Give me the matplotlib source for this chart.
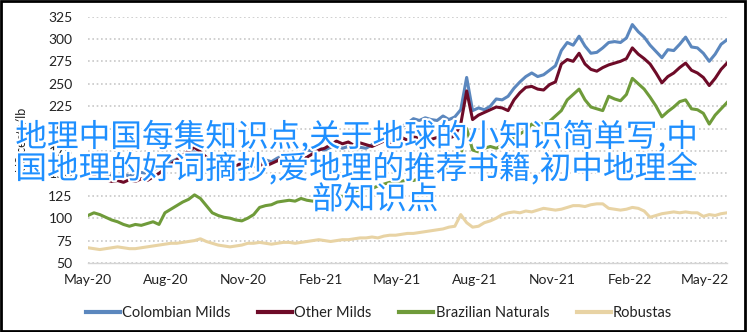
import numpy as np
import pandas as pd
import matplotlib
matplotlib.use("Agg")
import matplotlib.pyplot as plt
import matplotlib.dates as mdates
import matplotlib.patheffects as pe
from matplotlib.patches import Rectangle

# Weekly coffee price indicators, US cents/lb
dates = pd.date_range("2020-05-01", periods=109, freq="7D")

colombian_milds = [
    152, 150, 153, 149, 147, 146, 149, 147, 150, 151,
    150, 154, 157, 160, 163, 166, 170, 172, 174, 170,
    166, 163, 160, 158, 157, 155, 158, 160, 158, 162,
    165, 163, 167, 170, 172, 170, 174, 176, 175, 178,
    176, 179, 181, 178, 180, 177, 179, 178, 182, 186,
    190, 194, 198, 202, 206, 211, 209, 212, 210, 209,
    214, 210, 213, 221, 257, 220, 223, 221, 225, 233,
    232, 236, 245, 252, 258, 262, 258, 260, 265, 270,
    287, 296, 293, 303, 292, 284, 285, 290, 296, 297,
    296, 301, 316, 308, 302, 293, 286, 279, 288, 287,
    294, 302, 291, 290, 284, 275, 283, 294, 299,
]

other_milds = [
    150, 148, 146, 143, 141, 142, 140, 143, 141, 144,
    142, 146, 150, 155, 160, 165, 170, 175, 179, 174,
    168, 163, 160, 157, 155, 158, 162, 165, 163, 160,
    158, 161, 164, 168, 172, 170, 166, 168, 172, 176,
    178, 182, 186, 183, 185, 181, 184, 182, 180, 183,
    186, 184, 188, 190, 187, 191, 189, 192, 188, 190,
    193, 189, 192, 205, 242, 210, 215, 218, 221, 224,
    223, 220, 232, 240, 246, 247, 244, 243, 249, 252,
    272, 277, 275, 284, 272, 266, 264, 268, 271, 273,
    275, 278, 290, 283, 278, 272, 262, 251, 258, 262,
    268, 273, 265, 262, 257, 248, 256, 266, 273,
]

brazilian_naturals = [
    103, 106, 104, 101, 98, 96, 93, 91, 93, 92,
    94, 96, 93, 106, 110, 114, 118, 121, 126, 122,
    114, 106, 103, 101, 100, 98, 97, 100, 104, 112,
    114, 115, 118, 119, 120, 119, 122, 120, 119, 121,
    123, 125, 126, 124, 128, 130, 132, 134, 133, 136,
    138, 140, 139, 141, 143, 142, 144, 146, 150, 153,
    155, 157, 160, 170, 200, 176, 174, 178, 180, 178,
    181, 184, 190, 194, 198, 205, 203, 206, 208, 214,
    220, 232, 238, 244, 232, 224, 222, 220, 236, 233,
    231, 238, 256, 250, 244, 235, 225, 213, 219, 224,
    230, 232, 222, 221, 217, 205, 215, 222, 229,
]

robustas = [
    67, 66, 65, 66, 67, 68, 67, 66, 66, 67,
    68, 69, 70, 71, 72, 72, 73, 74, 75, 77,
    74, 72, 70, 69, 68, 69, 70, 72, 72, 73,
    72, 71, 72, 73, 73, 72, 73, 74, 75, 76,
    75, 74, 75, 76, 76, 77, 78, 78, 79, 78,
    80, 81, 81, 82, 83, 83, 84, 85, 86, 87,
    88, 90, 91, 104, 95, 90, 91, 95, 97, 100,
    104, 106, 107, 106, 108, 107, 109, 111, 110, 109,
    110, 112, 114, 114, 113, 115, 116, 116, 111, 110,
    109, 110, 112, 111, 108, 101, 103, 105, 106, 107,
    106, 107, 106, 106, 102, 104, 103, 105, 106,
]

series_names = ["Colombian Milds", "Other Milds", "Brazilian Naturals", "Robustas"]
series_values = [colombian_milds, other_milds, brazilian_naturals, robustas]
series_colors = ["#5B87BE", "#6E0B28", "#6F9B3A", "#E8D3A4"]

tick_dates = pd.date_range("2020-05-01", "2022-05-01", freq="3MS")
y_ticks = list(range(50, 326, 25))

overlay_lines = [
    "地理中国每集知识点,关于地球的小知识简单写,中",
    "国地理的好词摘抄,爱地理的推荐书籍,初中地理全",
    "部知识点",
]

plt.rcParams["font.family"] = ["Lato", "DejaVu Sans"]

fig = plt.figure(figsize=(7.48, 3.32), dpi=100)
ax_left, ax_right, ax_top, ax_bottom = 88, 727, 16.5, 263
ax = fig.add_axes([ax_left / 748, 1 - ax_bottom / 332,
                   (ax_right - ax_left) / 748, (ax_bottom - ax_top) / 332])

for name, vals, col in zip(series_names, series_values, series_colors):
    ax.plot(dates, vals, color=col, lw=2.2, label=name, solid_joinstyle="round")

ax.set_xlim(dates[0], dates[-1])
ax.set_ylim(50, 325)
ax.set_yticks(y_ticks)
ax.set_xticks(tick_dates)
ax.xaxis.set_major_formatter(mdates.DateFormatter("%b-%y"))

ax.grid(axis="y", color="#C8C8C8", lw=1.2, linestyle=(0, (1, 1.6)))
ax.grid(axis="x", visible=False)
ax.set_axisbelow(True)
for s in ["top", "right", "left"]:
    ax.spines[s].set_visible(False)
ax.spines["bottom"].set_color("#D4D4D4")
ax.spines["bottom"].set_linewidth(1.0)
ax.tick_params(axis="both", length=0, labelsize=10, colors="#222222")
ax.tick_params(axis="y", pad=11)
ax.tick_params(axis="x", pad=8)

ax.set_ylabel("US cents/lb", fontsize=9, color="#222222", va="center")
ax.yaxis.set_label_coords((21 - ax_left) / (ax_right - ax_left), 0.5)

leg = fig.legend(loc="center", bbox_to_anchor=(379 / 748, 1 - 313 / 332), ncol=4,
                 frameon=False, fontsize=10.5, handlelength=2.33, handletextpad=0.15,
                 columnspacing=1.9)
for h in leg.get_lines():
    h.set_linewidth(3)
for t in leg.get_texts():
    t.set_color("#222222")

# Black frame round the whole figure
fig.patches.append(Rectangle((0.0015, 0.003), 0.995, 0.993, transform=fig.transFigure,
                             fill=False, edgecolor="black", lw=2, zorder=10))

# Blue caption across the plot
caption_pos = [(356, 137), (356, 169), (375, 200)]
for txt, (xx, yy) in zip(overlay_lines, caption_pos):
    fig.text(xx / 748, 1 - yy / 332, txt, ha="center", va="center", fontsize=22.8,
             color="#1E8FFF", family=["Noto Sans CJK SC", "DejaVu Sans"],
             path_effects=[pe.withStroke(linewidth=3, foreground="white")], zorder=20)

fig.savefig("out.png", dpi=100)
